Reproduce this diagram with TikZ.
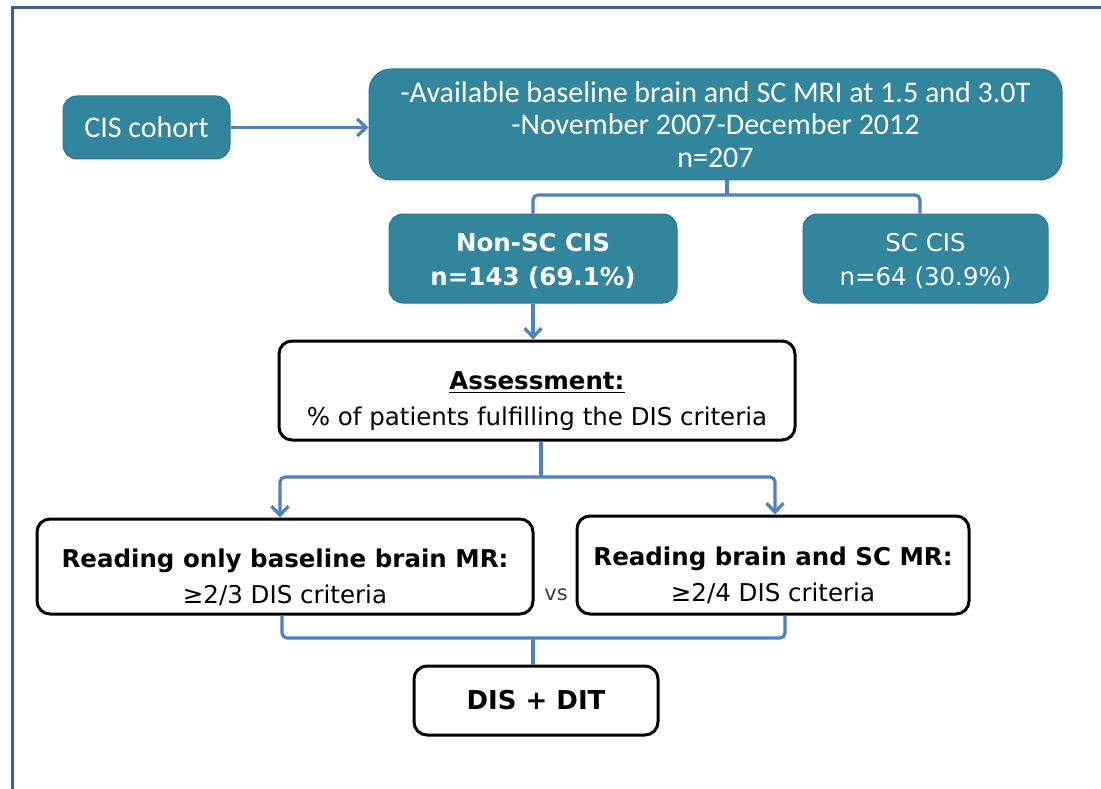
\documentclass[tikz,border=0pt]{standalone}
\usepackage{fontspec}
\setmainfont{DejaVu Sans}
\newfontfamily\capfont{Carlito}
\usetikzlibrary{arrows.meta,calc}
\definecolor{boxteal}{HTML}{31859C}
\definecolor{boxtealedge}{HTML}{2C7A8F}
\definecolor{connblue}{HTML}{4F81BD}
\definecolor{framecol}{HTML}{3C6294}
\definecolor{vsgray}{HTML}{404040}
\begin{document}
\begin{tikzpicture}[x=1pt,y=-1pt,
  tealbox/.style={rectangle, rounded corners=14pt, fill=boxteal, draw=boxtealedge,
    line width=1pt, text=white, align=center, inner sep=0pt},
  whitebox/.style={rectangle, rounded corners=13pt, draw=black, line width=3pt,
    fill=white, align=center, inner sep=0pt},
  conn/.style={draw=connblue, line width=3.2pt, rounded corners=5pt},
  arr/.style={conn, -{Straight Barb[length=9pt,width=17pt]}},
  regtext/.style={font=\fontsize{24.5}{34}\selectfont},
  widetext/.style={font=\fontsize{24.5}{36}\selectfont},
  capt/.style={font=\capfont\fontsize{30}{32.5}\selectfont}]
\useasboundingbox (0,0) rectangle (1101,789);
\fill[white] (0,0) rectangle (1101,789);
% outer frame
\draw[framecol, line width=3pt] (12,789) -- (12,8) -- (1101,8);

% cohort and inclusion
\node[tealbox, capt, minimum width=167pt, minimum height=63pt] (cis) at (146.5,127.5) {CIS cohort};
\node[tealbox, capt, rounded corners=22pt, minimum width=693pt, minimum height=111pt] (top) at (715.5,124.5)
  {-Available baseline brain and SC MRI at 1.5 and 3.0T\\-November 2007-December 2012\\n=207};
\node[tealbox, regtext, minimum width=288pt, minimum height=89pt] (nonsc) at (533,258.5)
  {\rule{0pt}{23pt}\bfseries Non-SC CIS\\\bfseries n=143 (69.1\%)};
\node[tealbox, regtext, minimum width=245pt, minimum height=89pt] (scc) at (925.5,258.5)
  {\rule{0pt}{23pt}SC CIS\\n=64 (30.9\%)};

% assessment and readings
\node[whitebox, widetext, minimum width=516pt, minimum height=99pt] (assess) at (537,390.5)
  {\rule{0pt}{40pt}\textbf{\underline{Assessment:}}\\\% of patients fulfilling the DIS criteria};
\node[whitebox, widetext, minimum width=496pt, minimum height=95pt] (left) at (285,566.5)
  {\rule{0pt}{40pt}\textbf{Reading only baseline brain MR:}\\≥2/3 DIS criteria};
\node[whitebox, widetext, minimum width=392pt, minimum height=98pt] (right) at (773,565)
  {\rule{0pt}{40pt}\textbf{Reading brain and SC MR:}\\≥2/4 DIS criteria};
\node[text=vsgray, font=\fontsize{21}{24}\selectfont] (vs) at (556,595) {vs};
\node[whitebox, font=\bfseries\fontsize{26}{30}\selectfont, minimum width=244pt, minimum height=69pt] (dis) at (536,700.5)
  {DIS + DIT};

% connectors
\draw[arr] (cis.east) -- (cis.east -| top.west);
\coordinate (tb) at (727,195);
\draw[conn] ([xshift=11.5pt]top.south) -- (tb);
\draw[conn] (nonsc.north) |- (tb) -| ([xshift=-5.5pt]scc.north);
\draw[arr] (nonsc.south) -- (nonsc.south |- assess.north);
\coordinate (ub) at (541,477);
\draw[conn] (assess.south -| ub) -- (ub);
\draw[arr] (ub) -| ([xshift=-5pt]left.north);
\draw[arr] (ub) -| ([xshift=2pt]right.north);
\coordinate (lb) at (533,638);
\draw[conn] ([xshift=-3pt]left.south) |- (lb) -| ([xshift=12pt]right.south);
\draw[conn] (lb) -- (dis.north -| lb);
\end{tikzpicture}
\end{document}
